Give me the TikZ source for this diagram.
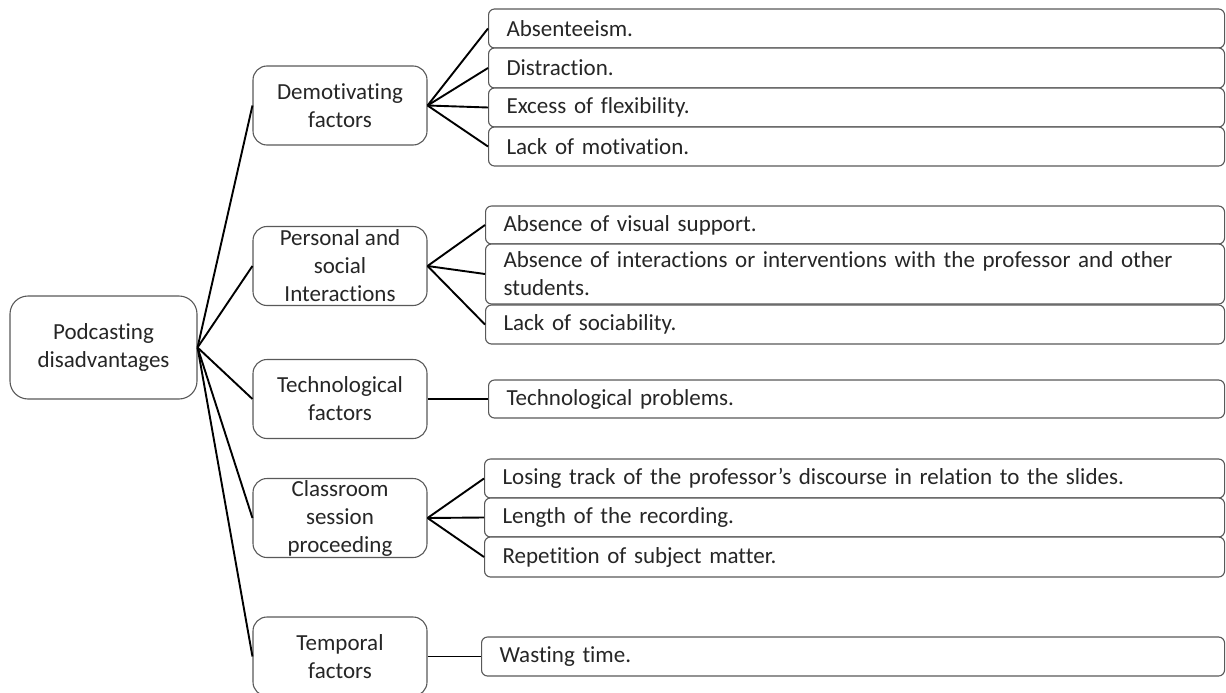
\documentclass[tikz,border=0pt]{standalone}
\usepackage{fontspec}
\setmainfont[Ligatures = NoCommon]{Carlito}

\begin{document}
\begin{tikzpicture}[x = 1pt, y = -1pt,
		box/.style = {draw = black!65, line width = 1.1pt, fill = white, inner sep = 0pt, text = black!85},
		rootbox/.style = {box, rounded corners = 18pt, minimum width = 187pt, minimum height = 103pt, align = center},
		midbox/.style = {box, rounded corners = 14pt, minimum width = 174pt, minimum height = 79pt, align = center},
		leafbox/.style = {box, rounded corners = 6pt, anchor = west, inner xsep = 18pt, align = left},
		link/.style = {line width = 1.9pt}]
			\useasboundingbox (0,0) rectangle (1226,693);
			\fontsize{23}{28}\selectfont

			\node [rootbox] (root) at (103.5,347.5) {Podcasting\\disadvantages};

			\node [midbox] (demo) at (340,105.5) {Demotivating\\factors};
			\node [midbox] (pers) at (340,266) {Personal and\\social\\Interactions};
			\node [midbox] (tech) at (340,399) {Technological\\factors};
			\node [midbox] (class) at (340,518) {Classroom\\session\\proceeding};
			\node [midbox] (temp) at (340,656.5) {Temporal\\factors};

			\foreach \mid in {demo, pers, tech, class, temp}
			{
				\draw [link] (root.east) -- (\mid.west);
			}

			\foreach \nm/\px/\yt/\yb/\up/\txt in {%
				a1/488/9/48/demo/{Absenteeism.},
				a2/488/48/88/demo/{Distraction.},
				a3/488/88/127/demo/{Excess of flexibility.},
				a4/488/127/166/demo/{Lack of motivation.},
				b1/485/206/244/pers/{Absence of visual support.},
				b2/485/244/304/pers/{Absence of interactions or interventions with the professor and other\\students.},
				b3/485/305/344/pers/{Lack of sociability.},
				c1/488/380/418/tech/{Technological problems.},
				d1/484/459/498/class/{Losing track of the professor’s discourse in relation to the slides.},
				d2/484/498/537/class/{Length of the recording.},
				d3/484/537/577/class/{Repetition of subject matter.},
				e1/481/637/676/temp/{Wasting time.}}
			{
				\pgfmathsetmacro\tw{1224-\px-36}
				\pgfmathsetmacro\bh{\yb-\yt}
				\pgfmathsetmacro\yc{(\yt+\yb)/2}
				\node [leafbox, text width = \tw pt, minimum height = \bh pt] (\nm) at (\px,\yc) {\txt};
				\draw [link] (\up.east) -- (\nm.west);
			}
		\end{tikzpicture}
\end{document}
